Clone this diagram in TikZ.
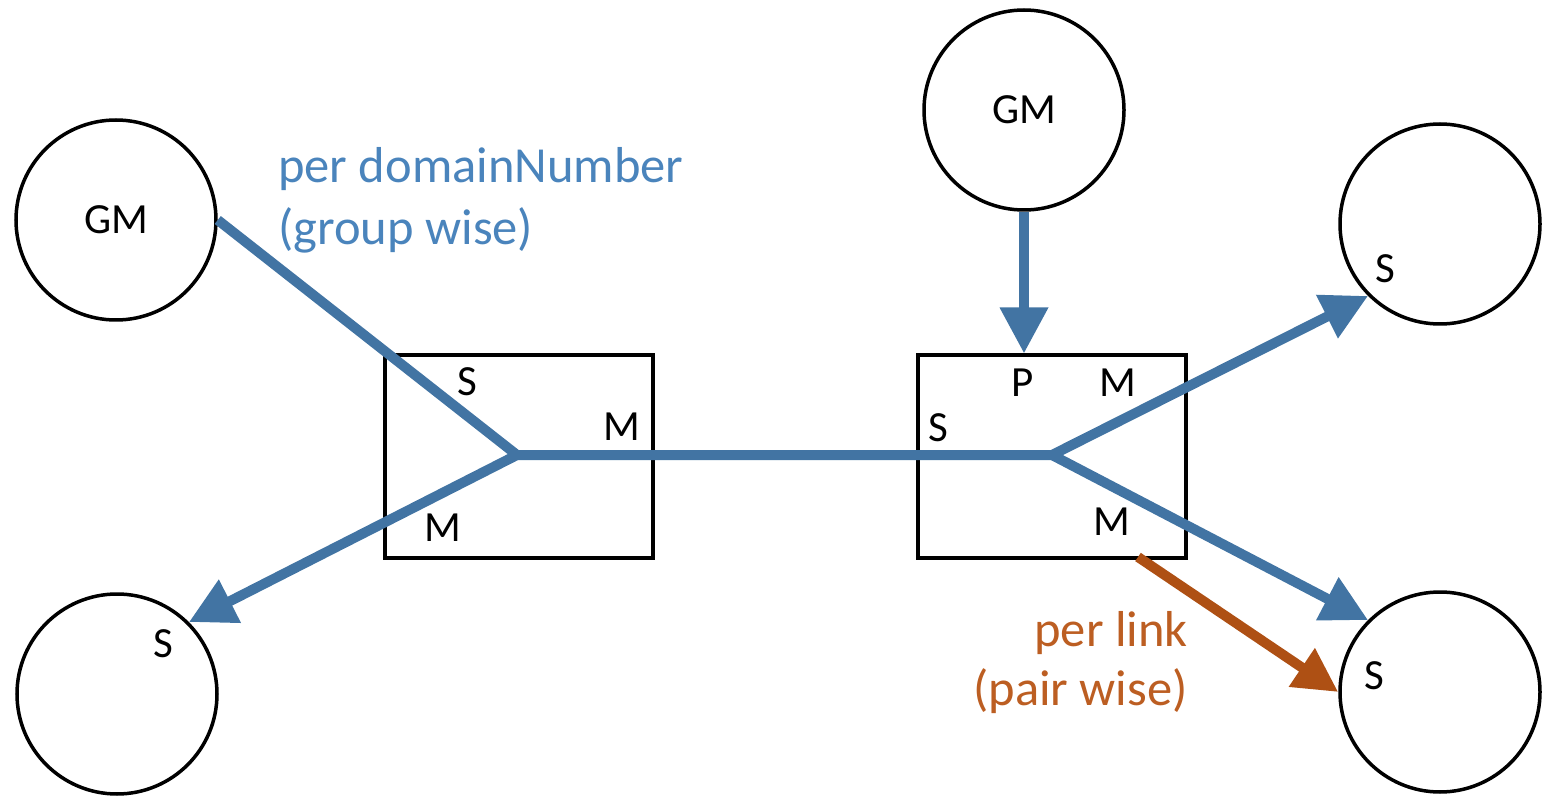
\documentclass[tikz,border=0pt]{standalone}
\usepackage{fontspec}
\setmainfont{Carlito}
\usetikzlibrary{arrows.meta}
\definecolor{linkblue}{RGB}{66,116,163}
\definecolor{textblue}{RGB}{74,132,188}
\definecolor{linkbrown}{RGB}{174,80,20}
\definecolor{textbrown}{RGB}{188,94,34}
\tikzset{
  clock/.style={circle, draw=black, line width=3.5pt, minimum size=200pt, inner sep=0pt, font=\fontsize{43}{52}\selectfont},
  bridge/.style={rectangle, draw=black, line width=4pt, minimum width=268pt, minimum height=202pt, inner sep=0pt},
  port/.style={inner sep=0pt, font=\fontsize{43}{52}\selectfont},
  bluelink/.style={draw=linkblue, line width=10pt},
  bluearrow/.style={bluelink, -{Triangle[length=46pt,width=46pt]}},
  brownarrow/.style={draw=linkbrown, line width=10pt, -{Triangle[length=44pt,width=44pt]}},
  note/.style={inner sep=0pt, font=\fontsize{50.5}{62}\selectfont}
}
\begin{document}
\begin{tikzpicture}[x=1pt,y=-1pt]
\useasboundingbox (0,0) rectangle (1542,799);

% clocks
\node[clock] (gm1) at (116,220) {GM};
\node[clock] (gm2) at (1024,110) {GM};
\node[clock] (s1) at (117,694) {};
\node[clock] (s2) at (1440,224) {};
\node[clock] (s3) at (1440,692) {};

% bridges
\node[bridge] (b1) at (519,456.5) {};
\node[bridge] (b2) at (1052,456.5) {};

% junction points inside the bridges
\coordinate (j1) at (517,455);
\coordinate (j2) at (1052,455);
\coordinate (pl) at (1138,557);

% blue group-wise paths
\draw[bluelink, line join=miter] (gm1.east) -- (j1) -- (j2);
\draw[bluearrow] (j1) -- (s1.45);
\draw[bluearrow] (j2) -- (s2.225);
\draw[bluearrow] (j2) -- (s3.135);
\draw[bluearrow] (gm2.south) -- (gm2.south |- b2.north);

% brown pair-wise path
\draw[brownarrow] (pl) -- (s3.west);

% port labels
\node[port] (ls1) at (163,644) {S};
\node[port] (ls2) at (1385,269) {S};
\node[port] (ls3) at (1374,676) {S};
\node[port] (b1s) at (467,382) {S};
\node[port] (b1m) at (622,427) {M};
\node[port] (b1m2) at (443,528) {M};
\node[port] (b2p) at (1023,383) {P};
\node[port] (b2m) at (1118,383) {M};
\node[port] (b2s) at (938,428) {S};
\node[port] (b2m2) at (1112,522) {M};

% notes
\node[note, text=textblue, align=left, anchor=north west] (n1) at (278,147) {per domainNumber\\(group wise)};
\node[note, text=textbrown, align=right, anchor=north east, font=\fontsize{50.5}{59}\selectfont] (n2) at (1188,611) {per link\\(pair wise)};
\end{tikzpicture}
\end{document}
